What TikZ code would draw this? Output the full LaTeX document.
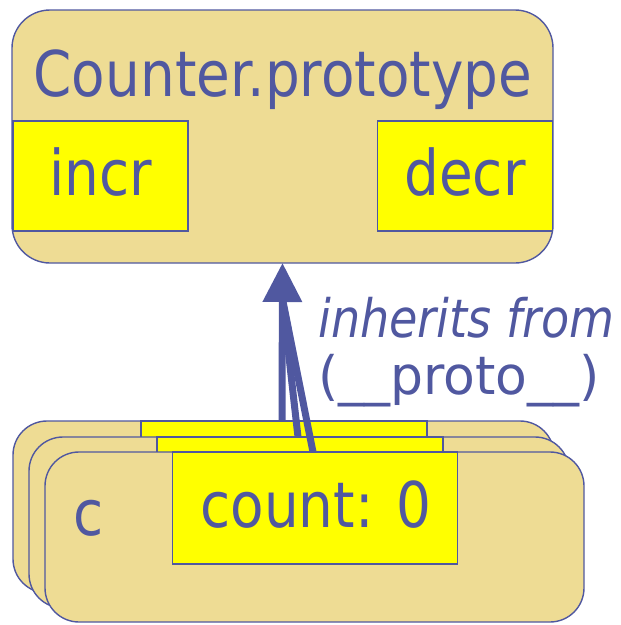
\documentclass[tikz,border=0pt]{standalone}
\usepackage{fontspec}
\setmainfont{DejaVu Sans}
\usetikzlibrary{arrows.meta}
\definecolor{ink}{HTML}{5058A0}
\definecolor{tan}{HTML}{EEDC94}
\definecolor{slot}{HTML}{FFFF00}
% narrow the glyphs a little, as in a condensed sans
\newcommand{\narrow}[1]{\scalebox{0.87}[1]{#1}}
\tikzset{
  objbox/.style={draw=ink, line width=1.4pt, fill=tan, rounded corners=38pt,
                 inner sep=0pt, outer sep=0pt},
  slotbox/.style={draw=ink, line width=1.2pt, fill=slot, inner sep=0pt, outer sep=0pt},
  big/.style={text=ink, inner sep=0pt, font=\fontsize{63}{70}\selectfont},
  small/.style={text=ink, inner sep=0pt, font=\fontsize{53}{60}\selectfont},
  link/.style={draw=ink, line width=7pt},
}
\begin{document}
\begin{tikzpicture}[x=1pt,y=-1pt]
\useasboundingbox (0,0) rectangle (621,625);

% prototype object with its two methods
\node[objbox, minimum width=541pt, minimum height=253pt] (proto) at (282.5,136.5) {};
\node[slotbox, minimum width=175pt, minimum height=110pt] (incr) at (100.5,176) {};
\node[slotbox, minimum width=175pt, minimum height=110pt] (decr) at (465,176) {};
\node[big, anchor=base] (title) at (283,96) {\narrow{Counter.prototype}};
\node[big, anchor=base] (incrt) at (100.5,195) {\narrow{incr}};
\node[big, anchor=base] (decrt) at (465,195) {\narrow{decr}};

% stack of counter instances
\node[objbox, rounded corners=34pt, minimum width=541pt, minimum height=172pt] (c1) at (283.5,507) {};
\node[slotbox, minimum width=286pt, minimum height=112pt] (cnt1) at (284,477) {};
\node[objbox, rounded corners=34pt, minimum width=540pt, minimum height=171pt] (c2) at (299,522.5) {};
\node[slotbox, minimum width=286pt, minimum height=112pt] (cnt2) at (300,493) {};
\node[objbox, rounded corners=34pt, minimum width=539pt, minimum height=170pt] (c3) at (314.5,537) {};
\node[slotbox, minimum width=285pt, minimum height=112pt] (cnt3) at (315,508) {};
\node[big, anchor=base west] (cname) at (73,535) {\narrow{c}};
\node[big, anchor=base] (countt) at (316,527) {\narrow{count: 0}};

% prototype links
\coordinate (tipbase) at ([yshift=-36pt]proto.south);
\draw[link] ([xshift=-2pt]cnt2.north) -- (tipbase);
\draw[link] ([xshift=-2pt]cnt3.north) -- (tipbase);
\draw[link, -{Triangle[length=39pt,width=38pt]}] ([xshift=-2pt]cnt1.north) -- (proto.south);

\node[small, anchor=base west] (lab1) at (318,337) {\narrow{\itshape inherits from}};
\node[small, anchor=base west] (lab2) at (318,394) {\scalebox{0.98}[1]{(\_\_proto\_\_)}};
\end{tikzpicture}
\end{document}
